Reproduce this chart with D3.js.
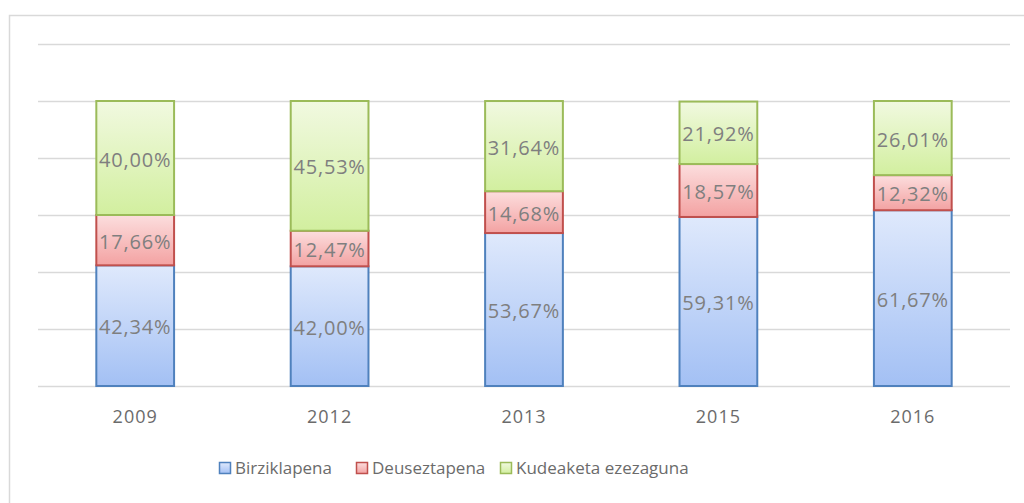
<!DOCTYPE html>
<html>
<head>
<meta charset="utf-8">
<script src="https://cdn.jsdelivr.net/npm/d3@7"></script>
<style>
  body { margin: 0; background: #fff; }
  svg { display: block; font-family: 'Open Sans', sans-serif; }
</style>
</head>
<body>
<svg width="1024" height="503"></svg>
<script>
const years = ['2009', '2012', '2013', '2015', '2016'];
const seriesNames = ['Birziklapena', 'Deuseztapena', 'Kudeaketa ezezaguna'];
const birziklapena = [42.34, 42.00, 53.67, 59.31, 61.67];
const deuseztapena = [17.66, 12.47, 14.68, 18.57, 12.32];
const kudeaketa = [40.00, 45.53, 31.64, 21.92, 26.01];
const yTicks = [0, 20, 40, 60, 80, 100, 120];

const colors = [
  { top: '#dfe9fc', bottom: '#a3c0f4', stroke: '#4f81bd' },
  { top: '#fcdede', bottom: '#f3a2a2', stroke: '#c0504d' },
  { top: '#f1f9e0', bottom: '#d2ef9f', stroke: '#9bbb59' }
];

const svg = d3.select('svg');

// outer frame
svg.append('rect')
  .attr('x', 9.5).attr('y', 15.5)
  .attr('width', 1030).attr('height', 500)
  .attr('fill', 'none')
  .attr('stroke', '#d9d9d9')
  .attr('stroke-width', 1.5);

const x = d3.scaleBand()
  .domain(years)
  .range([38, 1010])
  .paddingInner(0.6)
  .paddingOuter(0.3);

const y = d3.scaleLinear()
  .domain([0, 120])
  .range([386, 44]);

// gridlines
svg.append('g')
  .selectAll('line')
  .data(yTicks)
  .join('line')
  .attr('x1', 38).attr('x2', 1010)
  .attr('y1', d => Math.round(y(d)) + 0.5)
  .attr('y2', d => Math.round(y(d)) + 0.5)
  .attr('stroke', '#d9d9d9')
  .attr('stroke-width', 1.5);

const defs = svg.append('defs');
colors.forEach((c, i) => {
  const g = defs.append('linearGradient')
    .attr('id', 'grad' + i)
    .attr('x1', 0).attr('y1', 0).attr('x2', 0).attr('y2', 1);
  g.append('stop').attr('offset', '0%').attr('stop-color', c.top);
  g.append('stop').attr('offset', '100%').attr('stop-color', c.bottom);
});

const rows = years.map((yr, i) => ({
  year: yr,
  s0: birziklapena[i],
  s1: deuseztapena[i],
  s2: kudeaketa[i]
}));

const stack = d3.stack().keys(['s0', 's1', 's2']);
const layers = stack(rows);

const layerG = svg.append('g')
  .selectAll('g')
  .data(layers)
  .join('g');

layerG.selectAll('rect')
  .data((d, i) => d.map(p => ({ p, i })))
  .join('rect')
  .attr('x', d => x(d.p.data.year))
  .attr('y', d => y(d.p[1]))
  .attr('width', x.bandwidth())
  .attr('height', d => y(d.p[0]) - y(d.p[1]))
  .attr('fill', d => `url(#grad${d.i})`)
  .attr('stroke', d => colors[d.i].stroke)
  .attr('stroke-width', 2);

layerG.selectAll('text')
  .data((d, i) => d.map(p => ({ p, i })))
  .join('text')
  .attr('x', d => x(d.p.data.year) + x.bandwidth() / 2)
  .attr('y', d => (y(d.p[0]) + y(d.p[1])) / 2 + 1.5)
  .attr('dy', '0.35em')
  .attr('text-anchor', 'middle')
  .attr('font-size', 20)
  .attr('letter-spacing', 0.8)
  .attr('fill', '#7f7f7f')
  .text(d => d3.format('.2f')(d.p[1] - d.p[0]).replace('.', ',') + '%');

// x axis labels
svg.append('g')
  .selectAll('text')
  .data(years)
  .join('text')
  .attr('x', d => x(d) + x.bandwidth() / 2)
  .attr('y', 417)
  .attr('dy', '0.35em')
  .attr('text-anchor', 'middle')
  .attr('font-size', 18)
  .attr('letter-spacing', 1)
  .attr('fill', '#6b6b6b')
  .text(d => d);

// legend
const legendX = [219, 356, 500];
const legend = svg.append('g')
  .selectAll('g')
  .data(seriesNames)
  .join('g')
  .attr('transform', (d, i) => `translate(${legendX[i]},468)`);

legend.append('rect')
  .attr('x', 0.5).attr('y', -5.5)
  .attr('width', 11).attr('height', 11)
  .attr('fill', (d, i) => `url(#grad${i})`)
  .attr('stroke', (d, i) => colors[i].stroke)
  .attr('stroke-width', 1.5);

legend.append('text')
  .attr('x', 16)
  .attr('y', 0)
  .attr('dy', '0.35em')
  .attr('font-size', 17)
  .attr('fill', '#6b6b6b')
  .text(d => d);
</script>
</body>
</html>
